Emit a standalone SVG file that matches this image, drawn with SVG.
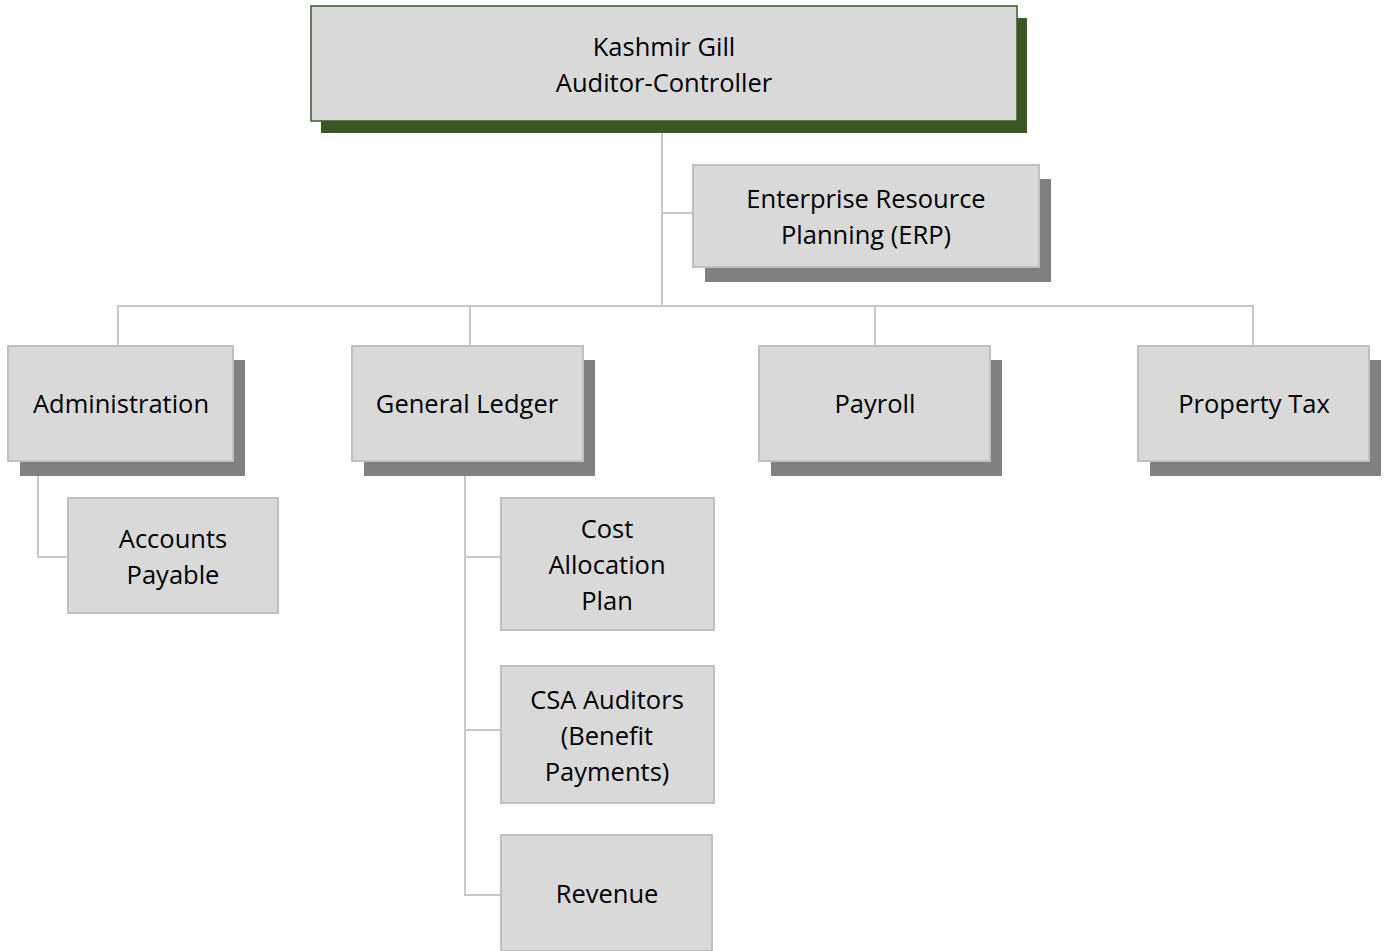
<svg xmlns="http://www.w3.org/2000/svg" width="1387" height="951" viewBox="0 0 1387 951">
<style>
.bg{fill:#ffffff}
.box{fill:#d9d9d9;stroke:#bfbfbf;stroke-width:2}
.shadow{fill:#808080}
.topbox{fill:#d9d9d9;stroke:#3a5a26;stroke-width:1.5}
.topshadow{fill:#3b5824}
.conn{fill:none;stroke:#c8c8c8;stroke-width:2}
text{font-family:"Open Sans","Noto Sans","Liberation Sans",sans-serif;font-size:25.5px;fill:#000;text-anchor:middle}
</style>
<rect class="bg" x="0" y="0" width="1387" height="951"/>
<g id="connectors">
<path class="conn" d="M662 121 V306"/>
<path class="conn" d="M662 213 H693"/>
<path class="conn" d="M118 346 V306 H1253 V346"/>
<path class="conn" d="M470 306 V346"/>
<path class="conn" d="M875 306 V346"/>
<path class="conn" d="M38 476 V557 H68"/>
<path class="conn" d="M465 476 V895 H501"/>
<path class="conn" d="M465 557 H501"/>
<path class="conn" d="M465 730 H501"/>
</g>
<g id="node-top">
<rect class="topshadow" x="321" y="18" width="706" height="115"/>
<rect class="topbox" x="311" y="6" width="706" height="115"/>
<text x="664" y="56">Kashmir Gill</text>
<text x="664" y="92">Auditor-Controller</text>
</g>
<g id="node-erp">
<rect class="shadow" x="705" y="179" width="346" height="103"/>
<rect class="box" x="693" y="165" width="346" height="102"/>
<text x="866" y="208">Enterprise Resource</text>
<text x="866" y="244">Planning (ERP)</text>
</g>
<g id="node-admin">
<rect class="shadow" x="20" y="360" width="225" height="116"/>
<rect class="box" x="8" y="346" width="225" height="115"/>
<text x="121" y="413">Administration</text>
</g>
<g id="node-gl">
<rect class="shadow" x="364" y="360" width="231" height="116"/>
<rect class="box" x="352" y="346" width="231" height="115"/>
<text x="467" y="413">General Ledger</text>
</g>
<g id="node-payroll">
<rect class="shadow" x="771" y="360" width="231" height="116"/>
<rect class="box" x="759" y="346" width="231" height="115"/>
<text x="875" y="413">Payroll</text>
</g>
<g id="node-proptax">
<rect class="shadow" x="1150" y="360" width="231" height="116"/>
<rect class="box" x="1138" y="346" width="231" height="115"/>
<text x="1254" y="413">Property Tax</text>
</g>
<g id="node-ap">
<rect class="box" x="68" y="498" width="210" height="115"/>
<text x="173" y="548">Accounts</text>
<text x="173" y="584">Payable</text>
</g>
<g id="node-cap">
<rect class="box" x="501" y="498" width="213" height="132"/>
<text x="607" y="538">Cost</text>
<text x="607" y="574">Allocation</text>
<text x="607" y="610">Plan</text>
</g>
<g id="node-csa">
<rect class="box" x="501" y="666" width="213" height="137"/>
<text x="607" y="709">CSA Auditors</text>
<text x="607" y="745">(Benefit</text>
<text x="607" y="781">Payments)</text>
</g>
<g id="node-revenue">
<rect class="box" x="501" y="835" width="211" height="116"/>
<text x="607" y="903">Revenue</text>
</g>
</svg>
